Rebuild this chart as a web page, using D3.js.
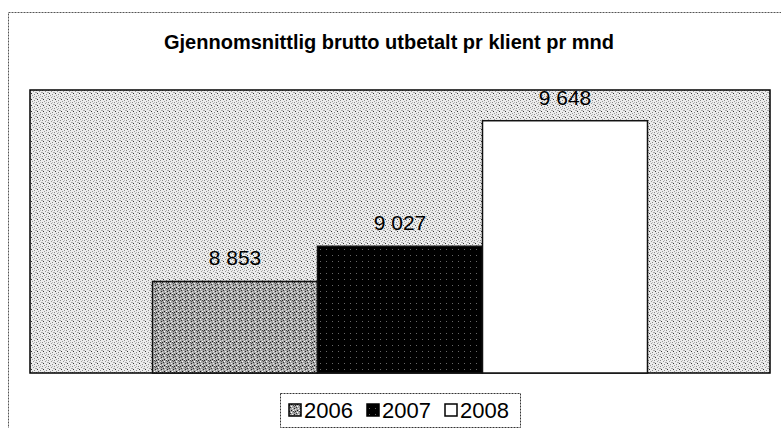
<!DOCTYPE html>
<html>
<head>
<meta charset="utf-8">
<script src="https://cdn.jsdelivr.net/npm/d3@7"></script>
<style>
  body { margin: 0; background: #fff; }
  text { font-family: "Liberation Sans", Arial, sans-serif; fill: #000; }
</style>
</head>
<body>
<div id="chart"></div>
<script>
var title = "Gjennomsnittlig brutto utbetalt pr klient pr mnd";
var years = ["2006", "2007", "2008"];
var values = [8853, 9027, 9648];
var yDomain = [8400, 9800];

var W = 781, H = 428;
var margin = {top: 90, right: 11, bottom: 55, left: 30},
    width = W - margin.left - margin.right,
    height = H - margin.top - margin.bottom;

var svg = d3.select("#chart").append("svg")
  .attr("width", W)
  .attr("height", H);

// speckled fills to imitate the scanned print
var defs = svg.append("defs");
function speckle(id, bg, dots) {
  var p = defs.append("pattern")
    .attr("id", id)
    .attr("width", 6).attr("height", 6)
    .attr("patternUnits", "userSpaceOnUse");
  p.append("rect").attr("width", 6).attr("height", 6).attr("fill", bg);
  dots.forEach(function (d) {
    p.append("rect").attr("x", d[0]).attr("y", d[1])
      .attr("width", 1).attr("height", 1).attr("fill", d[2]);
  });
}
speckle("bgPat", "#ececec", [[0,0,"#888"],[3,1,"#999"],[1,3,"#333"],[4,4,"#888"],[5,2,"#aaa"],[2,5,"#999"],[4,0,"#bbb"],[0,2,"#aaa"]]);
speckle("barPat", "#a6a6a6", [[0,0,"#222"],[2,1,"#fff"],[4,0,"#444"],[1,2,"#333"],[3,3,"#eee"],[5,3,"#222"],[0,4,"#ddd"],[2,5,"#111"],[4,5,"#fff"],[5,1,"#555"]]);
speckle("blackPat", "#000", [[2,3,"#666"]]);

var fills = {"2006": "url(#barPat)", "2007": "url(#blackPat)", "2008": "#fff"};

// outer chart frame
svg.append("rect")
  .attr("x", 8.5).attr("y", 12.5)
  .attr("width", W).attr("height", H)
  .attr("fill", "#fff")
  .attr("stroke", "#555")
  .attr("stroke-dasharray", "2,1");

svg.append("text")
  .attr("x", 389)
  .attr("y", 49)
  .style("text-anchor", "middle")
  .style("font-weight", "bold")
  .style("font-size", "20px")
  .text(title);

var g = svg.append("g")
  .attr("transform", "translate(" + margin.left + "," + margin.top + ")");

var x0 = d3.scaleBand()
  .domain(["grp"])
  .range([0, width])
  .paddingInner(0)
  .paddingOuter(0.2475);
var x1 = d3.scaleBand()
  .domain(years)
  .range([x0("grp"), x0("grp") + x0.bandwidth()])
  .padding(0);
var y = d3.scaleLinear()
  .domain(yDomain)
  .range([height, 0]);

g.append("rect")
  .attr("width", width)
  .attr("height", height)
  .attr("fill", "url(#bgPat)")
  .attr("stroke", "#000")
  .attr("stroke-width", 1.5);

var data = years.map(function (yr, i) { return {year: yr, value: values[i]}; });

g.selectAll(".bar")
  .data(data)
  .enter().append("rect")
  .attr("class", "bar")
  .attr("x", function (d) { return x1(d.year); })
  .attr("y", function (d) { return y(d.value); })
  .attr("width", x1.bandwidth())
  .attr("height", function (d) { return height - y(d.value); })
  .attr("fill", function (d) { return fills[d.year]; })
  .attr("stroke", "#111")
  .attr("stroke-width", 1.5);

var fmt = function (v) { return d3.format(",")(v).replace(",", " "); };

g.selectAll(".lbl")
  .data(data)
  .enter().append("text")
  .attr("class", "lbl")
  .attr("x", function (d) { return x1(d.year) + x1.bandwidth() / 2; })
  .attr("y", function (d) { return y(d.value) - 16; })
  .style("text-anchor", "middle")
  .style("font-size", "21px")
  .text(function (d) { return fmt(d.value); });

// legend
var leg = svg.append("g").attr("transform", "translate(280,393)");
leg.append("rect")
  .attr("x", 0.5).attr("y", 0.5)
  .attr("width", 240).attr("height", 34)
  .attr("fill", "#fff")
  .attr("stroke", "#333")
  .attr("stroke-dasharray", "2,1");
var items = leg.selectAll(".item")
  .data(years)
  .enter().append("g")
  .attr("class", "item")
  .attr("transform", function (d, i) { return "translate(" + (9 + i * 78) + ",0)"; });
items.append("rect")
  .attr("x", 0).attr("y", 11)
  .attr("width", 12).attr("height", 12)
  .attr("fill", function (d) { return fills[d]; })
  .attr("stroke", "#000")
  .attr("stroke-width", 1.5);
items.append("text")
  .attr("x", 15)
  .attr("y", 25)
  .style("font-size", "22px")
  .text(function (d) { return d; });
</script>
</body>
</html>
